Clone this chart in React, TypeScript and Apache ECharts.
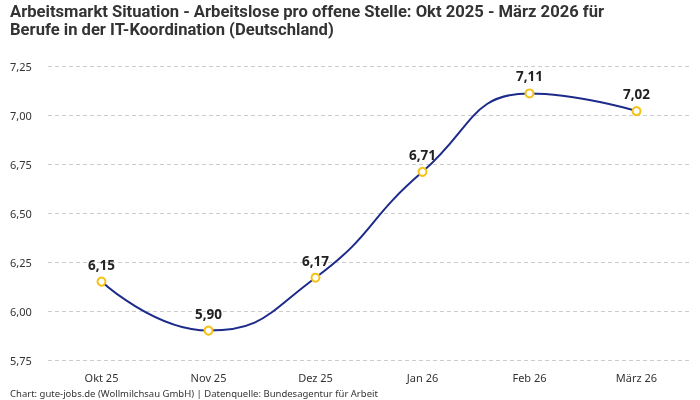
import React, { useEffect, useRef } from "react";
import * as echarts from "echarts";

const titleLines = [
  "Arbeitsmarkt Situation - Arbeitslose pro offene Stelle: Okt 2025 - März 2026 für",
  "Berufe in der IT-Koordination (Deutschland)",
];
const months = ["Okt 25", "Nov 25", "Dez 25", "Jan 26", "Feb 26", "März 26"];
const ratio = [6.15, 5.9, 6.17, 6.71, 7.11, 7.02];
const footer = "Chart: gute-jobs.de (Wollmilchsau GmbH) | Datenquelle: Bundesagentur für Arbeit";

const font = "'Noto Sans', sans-serif";
const titleFont = "Roboto, sans-serif";
const fmt = (v: number) => v.toFixed(2).replace(".", ",");

const App: React.FC = () => {
  const chartRef = useRef<HTMLDivElement>(null);

  useEffect(() => {
    if (!chartRef.current) return;
    const chart = echarts.init(chartRef.current, null, { renderer: "svg" });
    chart.setOption({
      animation: false,
      textStyle: { fontFamily: font },
      graphic: [
        // title, one text per line
        ...titleLines.map((line, i) => ({
          type: "text",
          left: 10,
          top: 3 + i * 18,
          style: {
            text: line,
            fontSize: 16.6,
            lineHeight: 17,
            fontWeight: "bold",
            fill: "#333",
            fontFamily: titleFont,
          },
        })),
        {
          type: "text",
          left: 10,
          top: 388,
          style: { text: footer, fontSize: 9.5, fill: "#333", fontFamily: font },
        },
      ],
      grid: { left: 48, right: 10, top: 66, bottom: 40 },
      xAxis: {
        type: "category",
        data: months,
        boundaryGap: true,
        axisLine: { show: false },
        axisTick: { show: false },
        axisLabel: { color: "#333", fontSize: 11, margin: 12 },
      },
      yAxis: {
        type: "value",
        min: 5.75,
        max: 7.25,
        interval: 0.25,
        axisLine: { show: false },
        axisTick: { show: false },
        axisLabel: {
          color: "#333",
          fontSize: 11,
          align: "left",
          margin: 38,
          formatter: (v: number) => fmt(v),
        },
        splitLine: { lineStyle: { type: [4, 3], color: "#cccccc", width: 1 } },
      },
      series: [
        {
          type: "line",
          data: ratio,
          smooth: true,
          symbol: "circle",
          symbolSize: 8,
          lineStyle: { color: "#1c2a8a", width: 2 },
          itemStyle: { color: "#ffffff", borderColor: "#f5c218", borderWidth: 2 },
          label: {
            show: true,
            position: "top",
            distance: 5,
            fontSize: 13.5,
            fontWeight: "bold",
            color: "#222",
            formatter: (p: any) => fmt(p.value),
          },
        },
      ],
    });
    return () => chart.dispose();
  }, []);

  return (
    <div
      ref={chartRef}
      style={{ position: "fixed", left: 0, top: 0, width: 700, height: 400 }}
    />
  );
};

export default App;
